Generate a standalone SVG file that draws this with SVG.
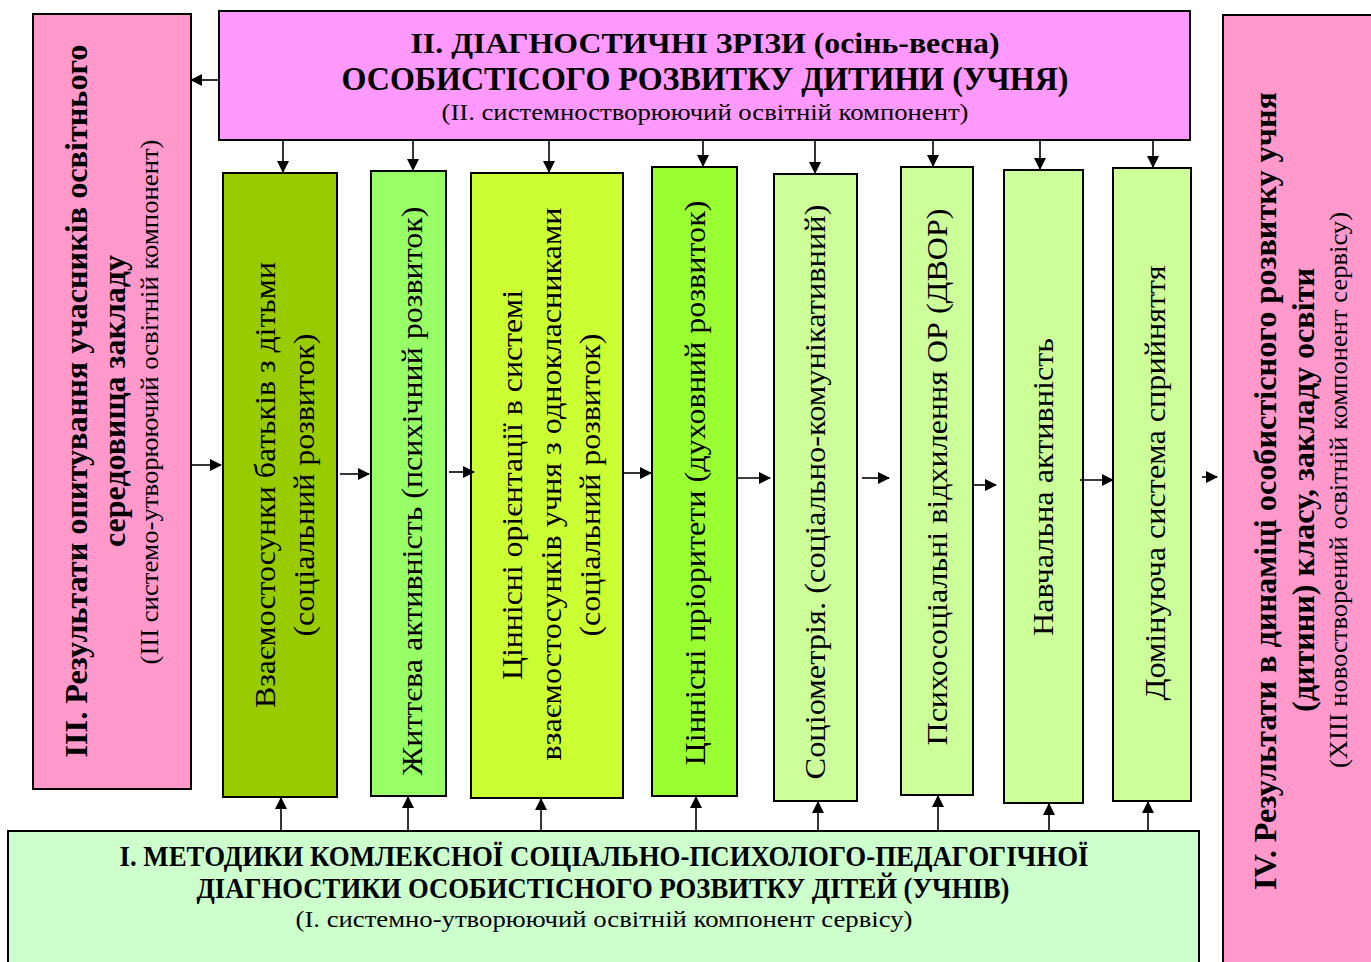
<svg xmlns="http://www.w3.org/2000/svg" width="1371" height="962" viewBox="0 0 1371 962">
<style>
.box{stroke:#000;stroke-width:2}
.t{font-family:"Liberation Serif","Times New Roman",serif;fill:#000}
.b{font-weight:bold}
.c{text-anchor:middle}
.col{font-size:30px}
.conn line{stroke:#000;stroke-width:1.6;marker-end:url(#ah)}
</style>
<defs>
<marker id="ah" markerUnits="userSpaceOnUse" markerWidth="12" markerHeight="12" refX="11" refY="6" orient="auto" viewBox="0 0 12 12">
<path d="M0,0 L12,6 L0,12 z" fill="#000"/>
</marker>
</defs>
<rect width="1371" height="962" fill="#fff"/>

<g id="n-left">
<rect class="box" x="33" y="14" width="158" height="775" fill="#FF99CC"/>
<text class="t b c" font-size="31" transform="translate(87,401) rotate(-90)" textLength="713" lengthAdjust="spacingAndGlyphs">ІІІ. Результати опитування учасників освітнього</text>
<text class="t b c" font-size="31" transform="translate(125,401) rotate(-90)" textLength="292" lengthAdjust="spacingAndGlyphs">середовища закладу</text>
<text class="t c" font-size="25" transform="translate(158,402) rotate(-90)" textLength="525" lengthAdjust="spacingAndGlyphs">(ІІІ системо-утворюючий освітній компонент)</text>
</g>

<g id="n-top">
<rect class="box" x="219" y="11" width="971" height="129" fill="#FF99FF"/>
<text class="t b c" font-size="30" x="705" y="53" textLength="589" lengthAdjust="spacingAndGlyphs">ІІ. ДІАГНОСТИЧНІ ЗРІЗИ (осінь-весна)</text>
<text class="t b c" font-size="33" x="705" y="90" textLength="727" lengthAdjust="spacingAndGlyphs">ОСОБИСТІСОГО РОЗВИТКУ ДИТИНИ (УЧНЯ)</text>
<text class="t c" font-size="24" x="705" y="120" textLength="527" lengthAdjust="spacingAndGlyphs">(ІІ. системностворюючий освітній компонент)</text>
</g>

<g id="n-right">
<rect class="box" x="1223" y="15" width="160" height="960" fill="#FF99CC"/>
<text class="t b c" font-size="31" transform="translate(1276,491) rotate(-90)" textLength="798" lengthAdjust="spacingAndGlyphs">IV. Результати в динаміці особистісного розвитку учня</text>
<text class="t b c" font-size="31" transform="translate(1314,490) rotate(-90)" textLength="444" lengthAdjust="spacingAndGlyphs">(дитини) класу, закладу освіти</text>
<text class="t c" font-size="25" transform="translate(1347,490) rotate(-90)" textLength="556" lengthAdjust="spacingAndGlyphs">(ХІІІ новостворений освітній компонент сервісу)</text>
</g>

<g id="n-bottom">
<rect class="box" x="8" y="831" width="1191" height="140" fill="#CCFFCC"/>
<text class="t b c" font-size="29" x="604" y="866" textLength="969" lengthAdjust="spacingAndGlyphs">І. МЕТОДИКИ КОМЛЕКСНОЇ СОЦІАЛЬНО-ПСИХОЛОГО-ПЕДАГОГІЧНОЇ</text>
<text class="t b c" font-size="29" x="603" y="898" textLength="813" lengthAdjust="spacingAndGlyphs">ДІАГНОСТИКИ ОСОБИСТІСНОГО РОЗВИТКУ ДІТЕЙ (УЧНІВ)</text>
<text class="t c" font-size="24" x="604" y="927" textLength="617" lengthAdjust="spacingAndGlyphs">(І. системно-утворюючий освітній компонент сервісу)</text>
</g>

<g id="n-c1">
<rect class="box" x="223" y="173" width="114" height="624" fill="#99CC00"/>
<text class="t c col" transform="translate(275,485) rotate(-90)" textLength="446" lengthAdjust="spacingAndGlyphs">Взаємостосунки батьків з дітьми</text>
<text class="t c col" transform="translate(314,485) rotate(-90)" textLength="303" lengthAdjust="spacingAndGlyphs">(соціальний розвиток)</text>
</g>
<g id="n-c2">
<rect class="box" x="371" y="171" width="75" height="625" fill="#99FF66"/>
<text class="t c col" transform="translate(422,491) rotate(-90)" textLength="569" lengthAdjust="spacingAndGlyphs">Життєва активність (психічний розвиток)</text>
</g>
<g id="n-c3">
<rect class="box" x="471" y="173" width="152" height="625" fill="#CCFF33"/>
<text class="t c col" transform="translate(522,485) rotate(-90)" textLength="390" lengthAdjust="spacingAndGlyphs">Ціннісні орієнтації в системі</text>
<text class="t c col" transform="translate(561,484) rotate(-90)" textLength="553" lengthAdjust="spacingAndGlyphs">взаємостосунків учня з однокласниками</text>
<text class="t c col" transform="translate(600,485) rotate(-90)" textLength="303" lengthAdjust="spacingAndGlyphs">(соціальний розвиток)</text>
</g>
<g id="n-c4">
<rect class="box" x="652" y="167" width="85" height="629" fill="#99FF33"/>
<text class="t c col" transform="translate(705,483) rotate(-90)" textLength="565" lengthAdjust="spacingAndGlyphs">Ціннісні пріоритети (духовний розвиток)</text>
</g>
<g id="n-c5">
<rect class="box" x="774" y="174" width="83" height="627" fill="#CCFF99"/>
<text class="t c col" transform="translate(825,492) rotate(-90)" textLength="575" lengthAdjust="spacingAndGlyphs">Соціометрія. (соціально-комунікативний)</text>
</g>
<g id="n-c6">
<rect class="box" x="901" y="167" width="72" height="628" fill="#CCFF99"/>
<text class="t c col" transform="translate(947,477) rotate(-90)" textLength="537" lengthAdjust="spacingAndGlyphs">Психосоціальні відхилення ОР (ДВОР)</text>
</g>
<g id="n-c7">
<rect class="box" x="1004" y="170" width="79" height="633" fill="#CCFF99"/>
<text class="t c col" transform="translate(1053,487) rotate(-90)" textLength="298" lengthAdjust="spacingAndGlyphs">Навчальна активність</text>
</g>
<g id="n-c8">
<rect class="box" x="1113" y="168" width="78" height="633" fill="#CCFF99"/>
<text class="t c col" transform="translate(1165,483) rotate(-90)" textLength="435" lengthAdjust="spacingAndGlyphs">Домінуюча система сприйняття</text>
</g>

<g id="connectors" class="conn">
<line x1="219" y1="80" x2="191" y2="80"/>
<line x1="283" y1="141" x2="283" y2="172"/>
<line x1="413" y1="141" x2="413" y2="170"/>
<line x1="549" y1="141" x2="549" y2="172"/>
<line x1="703" y1="141" x2="703" y2="166"/>
<line x1="815" y1="141" x2="815" y2="173"/>
<line x1="933" y1="141" x2="933" y2="166"/>
<line x1="1040" y1="141" x2="1040" y2="169"/>
<line x1="1153" y1="141" x2="1153" y2="167"/>
<line x1="281" y1="830" x2="281" y2="798"/>
<line x1="408" y1="830" x2="408" y2="797"/>
<line x1="541" y1="830" x2="541" y2="799"/>
<line x1="696" y1="830" x2="696" y2="797"/>
<line x1="818" y1="830" x2="818" y2="802"/>
<line x1="938" y1="830" x2="938" y2="796"/>
<line x1="1049" y1="830" x2="1049" y2="804"/>
<line x1="1148" y1="830" x2="1148" y2="802"/>
<line x1="192" y1="465" x2="221" y2="465"/>
<line x1="340" y1="474" x2="369" y2="474"/>
<line x1="449" y1="472" x2="474" y2="472"/>
<line x1="623" y1="473" x2="651" y2="473"/>
<line x1="737" y1="478" x2="770" y2="478"/>
<line x1="862" y1="478" x2="889" y2="478"/>
<line x1="973" y1="485" x2="996" y2="485"/>
<line x1="1080" y1="480" x2="1113" y2="480"/>
<line x1="1202" y1="477" x2="1217" y2="477"/>
</g>
</svg>
